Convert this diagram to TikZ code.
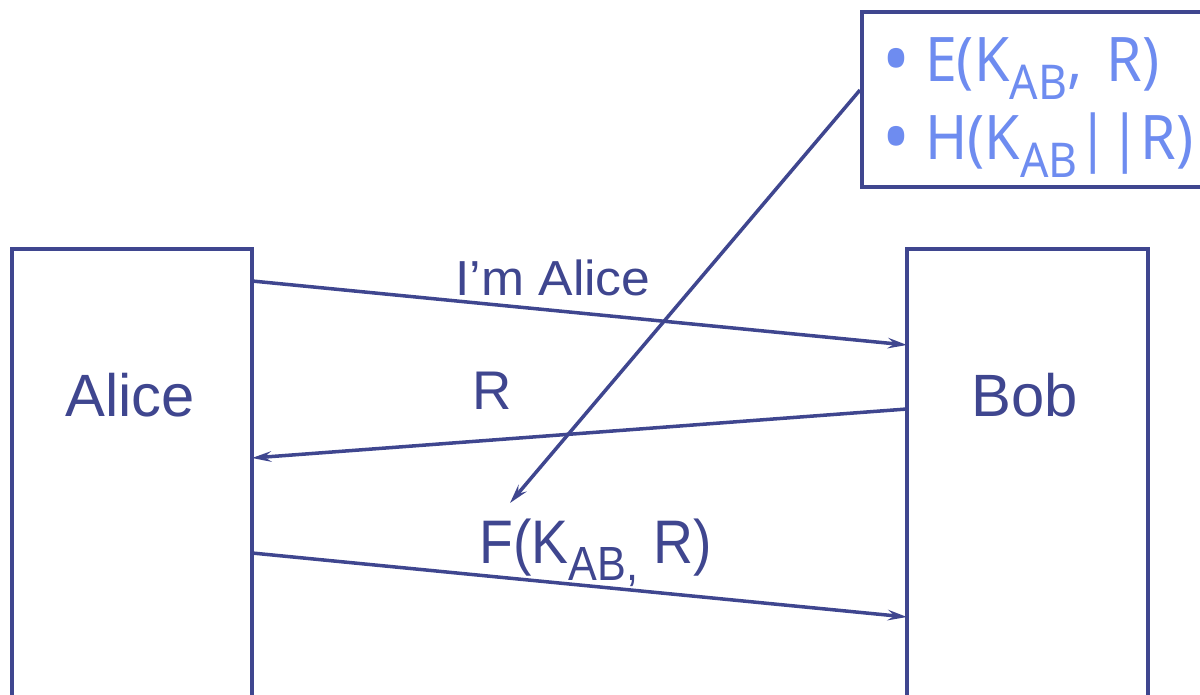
\documentclass[tikz,border=0pt]{standalone}
\usepackage{fontspec}
\setmainfont{Liberation Sans}
\newfontfamily\notefont{Noto Sans}
\usetikzlibrary{arrows.meta}
\definecolor{dk}{HTML}{3F468F}
\definecolor{lt}{HTML}{6E8CF0}
\newcommand{\bigsub}[1]{\raisebox{-0.28em}{\scalebox{0.78}{#1}}}
\newcommand{\notebullet}{\raisebox{-0.09em}{\scalebox{1.3}{\textbullet}}}
\tikzset{
  party/.style={draw=dk, line width=2.2pt, fill=white},
  msg/.style={draw=dk, line width=2pt, -{Stealth[length=11pt,width=6pt,inset=4pt]}},
  lbl/.style={text=dk, inner sep=0pt, anchor=base},
}
\begin{document}
\begin{tikzpicture}[x=0.02cm,y=-0.02cm]
\useasboundingbox (0,0) rectangle (1200,695);
\clip (0,0) rectangle (1200,695);
% parties
\draw[party] (12,249) rectangle (252,720);
\draw[party] (907,249) rectangle (1148,720);
\node[lbl, font=\fontsize{34}{40}\selectfont] (alice) at (130,417) {Alice};
\node[lbl, font=\fontsize{34}{40}\selectfont] (bob) at (1025,417) {Bob};
% anchor points on the lifelines
\coordinate (a1) at (252,281);
\coordinate (b1) at (907,345);
\coordinate (b2) at (907,409);
\coordinate (a2) at (252,458);
\coordinate (a3) at (252,553);
\coordinate (b3) at (907,617);
% note box
\node[draw=dk, line width=2.2pt, fill=white, inner sep=0pt,
      anchor=north west, minimum height=175*0.02cm, minimum width=380*0.02cm] (note) at (860,10) {};
\node[lbl, anchor=base west, text=lt, font=\notefont\fontsize{35}{40}\selectfont] (e1) at (882,82)
  {\scalebox{0.93}[1]{\notebullet\ E(K\bigsub{AB},\ \,R)}};
\node[lbl, anchor=base west, text=lt, font=\notefont\fontsize{35}{40}\selectfont] (e2) at (882,160)
  {\scalebox{0.93}[1]{\notebullet\ H(K\bigsub{AB}||R)}};
\coordinate (n1) at (860,90);
\coordinate (f1) at (510,503);
% messages
\draw[msg] (a1) -- (b1);
\draw[msg] (b2) -- (a2);
\draw[msg] (a3) -- (b3);
\draw[msg] (n1) -- (f1);
\node[lbl, font=\fontsize{28}{32}\selectfont] (m1) at (553,296) {\scalebox{1.05}[1]{I’m Alice}};
\node[lbl, font=\fontsize{31}{36}\selectfont] (m2) at (492,410) {R};
\node[lbl, font=\fontsize{35}{40}\selectfont] (m3) at (596,563) {\scalebox{0.9}[1]{F(K\bigsub{AB,} R)}};
\end{tikzpicture}
\end{document}
